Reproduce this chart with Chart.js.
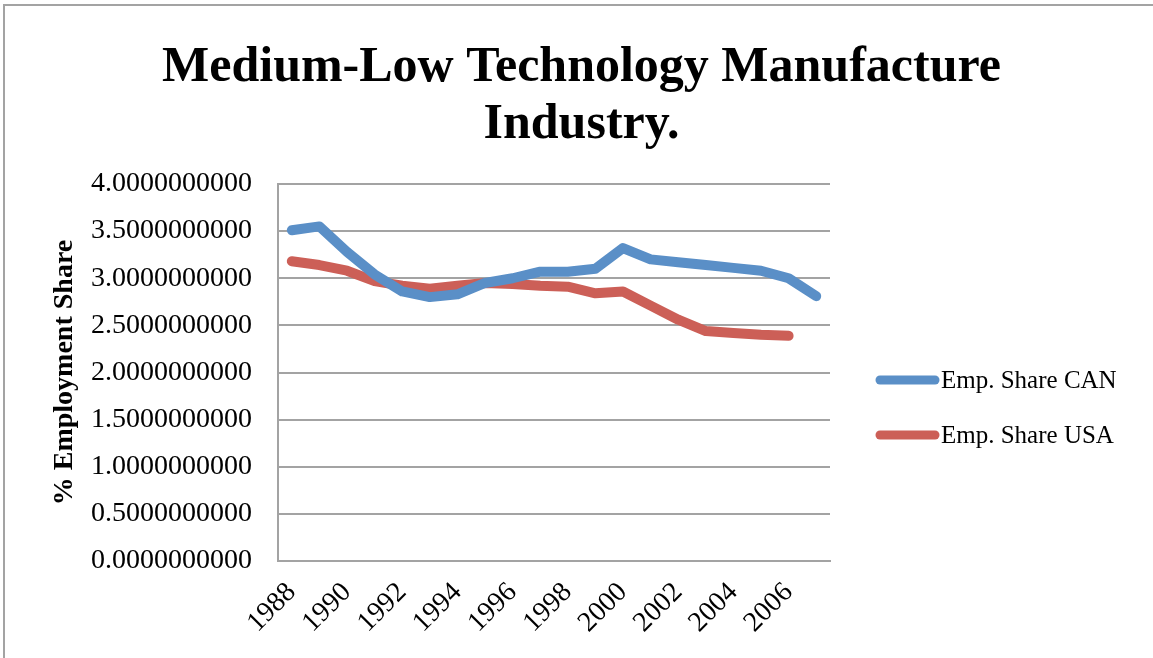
<!DOCTYPE html>
<html lang="en">
<head>
  <meta charset="UTF-8">
  <title>Medium-Low Technology Manufacture Industry</title>
  <script src="https://cdn.jsdelivr.net/npm/chart.js"></script>
  <style>
    body {
      margin: 0;
      background: #fff;
    }
    #wrap {
      position: relative;
      width: 1153px;
      height: 658px;
      overflow: hidden;
    }
    #frame {
      position: absolute;
      left: 3px;
      top: 4px;
      width: 1300px;
      height: 800px;
      border-left: 2px solid #a3a3a3;
      border-top: 2px solid #a3a3a3;
      pointer-events: none;
    }
  </style>
</head>
<body>
  <div id="wrap">
    <canvas id="empChart" width="1153" height="658"></canvas>
    <div id="frame"></div>
  </div>
  <script>
    const years = ['1988', '1989', '1990', '1991', '1992', '1993', '1994', '1995', '1996', '1997',
                   '1998', '1999', '2000', '2001', '2002', '2003', '2004', '2005', '2006', '2007'];
    const shareCAN = [3.51, 3.55, 3.28, 3.04, 2.86, 2.80, 2.83, 2.95, 3.00, 3.07,
                      3.07, 3.10, 3.32, 3.20, 3.17, 3.14, 3.11, 3.08, 3.00, 2.81];
    const shareUSA = [3.18, 3.14, 3.08, 2.97, 2.92, 2.89, 2.92, 2.95, 2.94, 2.92,
                      2.91, 2.84, 2.86, 2.71, 2.56, 2.44, 2.42, 2.40, 2.39, null];
    const seriesNames = ['Emp. Share CAN', 'Emp. Share USA'];
    const seriesColors = ['#5A8FC7', '#CC5F57'];

    const serif = "'Liberation Serif', 'Times New Roman', serif";
    const gridGray = '#a3a3a3';

    // legend on the right: thick round-capped line sample followed by the name
    const sideLegend = {
      id: 'sideLegend',
      afterDraw(chart) {
        const ctx = chart.ctx;
        const area = chart.chartArea;
        const x0 = area.right + 50;
        const yMid = (area.top + area.bottom) / 2 + 35;
        chart.data.datasets.forEach((ds, i) => {
          const y = yMid + (i - 0.5) * 55;
          ctx.save();
          ctx.strokeStyle = ds.borderColor;
          ctx.lineWidth = 9;
          ctx.lineCap = 'round';
          ctx.beginPath();
          ctx.moveTo(x0, y);
          ctx.lineTo(x0 + 55, y);
          ctx.stroke();
          ctx.fillStyle = '#000';
          ctx.font = '25px ' + serif;
          ctx.textBaseline = 'middle';
          ctx.fillText(ds.label, x0 + 61, y + 1);
          ctx.restore();
        });
      }
    };

    const ctx = document.getElementById('empChart').getContext('2d');
    new Chart(ctx, {
      type: 'line',
      data: {
        labels: years,
        datasets: [
          {
            label: seriesNames[0],
            data: shareCAN,
            borderColor: seriesColors[0],
            backgroundColor: seriesColors[0],
            borderWidth: 10,
            borderCapStyle: 'round',
            borderJoinStyle: 'round',
            pointRadius: 0,
            tension: 0
          },
          {
            label: seriesNames[1],
            data: shareUSA,
            borderColor: seriesColors[1],
            backgroundColor: seriesColors[1],
            borderWidth: 10,
            borderCapStyle: 'round',
            borderJoinStyle: 'round',
            pointRadius: 0,
            tension: 0
          }
        ]
      },
      options: {
        responsive: false,
        animation: false,
        devicePixelRatio: 1,
        layout: {
          padding: { left: 10, right: 0, top: 0, bottom: 0 }
        },
        scales: {
          x: {
            type: 'category',
            offset: true,
            grid: { display: false, drawTicks: false },
            border: { display: true, color: gridGray, width: 2 },
            ticks: {
              autoSkip: false,
              minRotation: 45,
              maxRotation: 45,
              padding: 15,
              color: '#000',
              font: { family: serif, size: 28 },
              callback: (v, i) => (i % 2 === 0 ? years[i] : '')
            },
            afterFit: (scale) => { scale.height = 97; }
          },
          y: {
            min: 0,
            max: 4,
            grid: { color: gridGray, lineWidth: 2, drawTicks: false },
            border: { display: true, color: gridGray, width: 2 },
            ticks: {
              stepSize: 0.5,
              padding: 26,
              color: '#000',
              font: { family: serif, size: 28 },
              callback: (v) => Number(v).toFixed(10)
            },
            title: {
              display: true,
              text: '% Employment Share',
              color: '#000',
              padding: { top: 38, bottom: 0 },
              font: { family: serif, size: 28, weight: 'bold', lineHeight: 1.2 }
            },
            afterFit: (scale) => { scale.width = 268; }
          },
          // empty right-hand axis that keeps room for the legend
          yRight: {
            position: 'right',
            display: true,
            grid: { display: false, drawTicks: false },
            border: { display: false },
            ticks: { display: false },
            afterFit: (scale) => { scale.width = 323; }
          }
        },
        plugins: {
          legend: { display: false },
          tooltip: { enabled: false },
          title: {
            display: true,
            text: ['Medium-Low Technology Manufacture', 'Industry.'],
            color: '#000',
            padding: { top: 40, bottom: 30 },
            font: { family: serif, size: 50, weight: 'bold', lineHeight: 1.14 }
          }
        }
      },
      plugins: [sideLegend]
    });
  </script>
</body>
</html>
